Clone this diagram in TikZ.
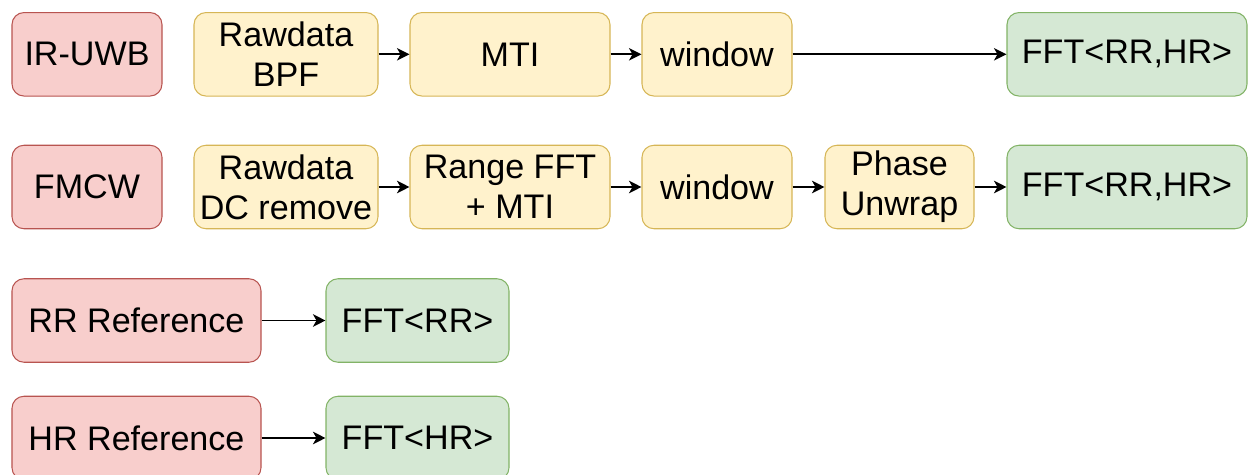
\documentclass[tikz,border=0pt]{standalone}
\usepackage{fontspec}
\setmainfont{Liberation Sans}
\usetikzlibrary{arrows.meta}
\definecolor{redfill}{HTML}{F8CECC}
\definecolor{redline}{HTML}{B85450}
\definecolor{yelfill}{HTML}{FFF2CC}
\definecolor{yelline}{HTML}{D6B656}
\definecolor{grnfill}{HTML}{D5E8D4}
\definecolor{grnline}{HTML}{82B366}
\tikzset{
    blk/.style={rounded corners=0.24cm,line width=0.6pt,minimum height=1.67cm,inner sep=0pt,align=center,
        font=\fontsize{19.4}{22.8}\selectfont},
    srcbox/.style={blk,draw=redline,fill=redfill},
    procbox/.style={blk,draw=yelline,fill=yelfill},
    outbox/.style={blk,draw=grnline,fill=grnfill},
    flow/.style={line width=1pt,-{Stealth[length=0.25cm,width=0.25cm,inset=0.07cm]}}
}

\begin{document}
\begin{tikzpicture}
            \useasboundingbox (0,0) rectangle (24.96,-9.5);
            % IR-UWB chain
            \node[srcbox,minimum width=3cm] (uwb) at (1.74,-1.086) {IR-UWB};
            \node[procbox,minimum width=3.68cm] (uwbraw) at (5.72,-1.086) {Rawdata\\BPF};
            \node[procbox,minimum width=4cm] (uwbmti) at (10.2,-1.086) {MTI};
            \node[procbox,minimum width=3cm] (uwbwin) at (14.34,-1.086) {window};
            \node[outbox,minimum width=4.8cm] (uwbfft) at (22.54,-1.086) {FFT<RR,HR>};
            \draw[flow] (uwbraw)--(uwbmti);
            \draw[flow] (uwbmti)--(uwbwin);
            \draw[flow] (uwbwin)--(uwbfft);
            % FMCW chain
            \node[srcbox,minimum width=3cm] (fmcw) at (1.74,-3.74) {FMCW};
            \node[procbox,minimum width=3.68cm] (fmraw) at (5.72,-3.74) {Rawdata\\DC remove};
            \node[procbox,minimum width=4cm] (fmrange) at (10.2,-3.74) {Range FFT\\+ MTI};
            \node[procbox,minimum width=3cm] (fmwin) at (14.34,-3.74) {window};
            \node[procbox,minimum width=2.98cm] (fmphase) at (17.99,-3.74) {Phase\\Unwrap};
            \node[outbox,minimum width=4.8cm] (fmfft) at (22.54,-3.74) {FFT<RR,HR>};
            \draw[flow] (fmraw)--(fmrange);
            \draw[flow] (fmrange)--(fmwin);
            \draw[flow] (fmwin)--(fmphase);
            \draw[flow] (fmphase)--(fmfft);
            % reference signals
            \foreach \r/\y in {RR/-6.41,HR/-8.76}{
                \node[srcbox,minimum width=4.98cm] (ref\r) at (2.73,\y) {\r{} Reference};
                \node[outbox,minimum width=3.66cm] (fft\r) at (8.35,\y) {FFT<\r>};
                \draw[flow] (ref\r)--(fft\r);
            }
        \end{tikzpicture}
\end{document}
